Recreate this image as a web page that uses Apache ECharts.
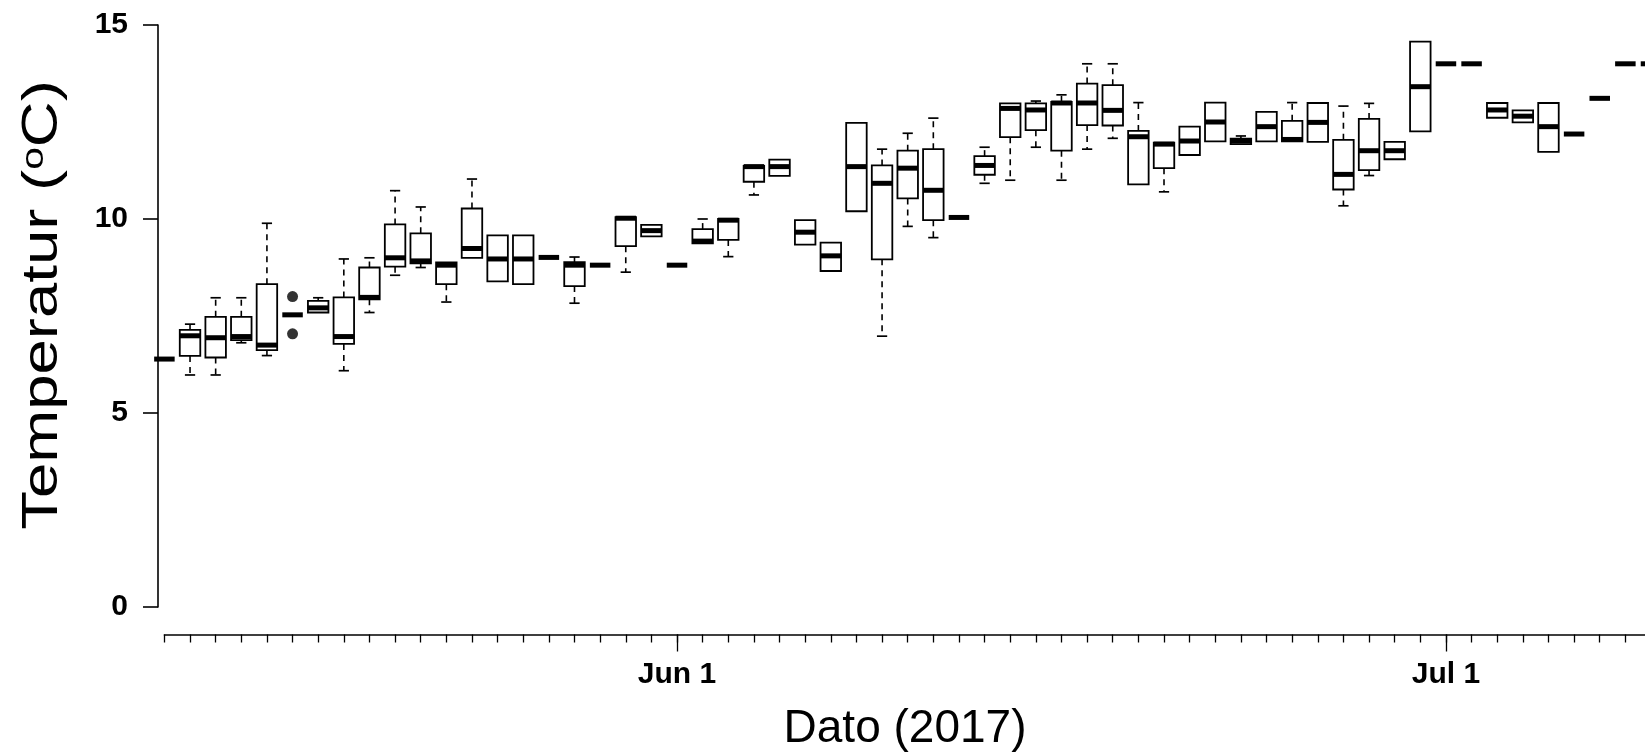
<!DOCTYPE html>
<html>
<head>
<meta charset="utf-8">
<title>Temperatur 2017</title>
<script src="https://cdn.jsdelivr.net/npm/echarts@6/dist/echarts.min.js"></script>
<style>
  html, body { margin: 0; padding: 0; background: #fff; }
  #chart { width: 1645px; height: 755px; }
</style>
</head>
<body>
<div id="chart"></div>
<script>
  const days = [
    'May 12', 'May 13', 'May 14', 'May 15', 'May 16', 'May 17', 'May 18', 'May 19', 'May 20', 'May 21',
    'May 22', 'May 23', 'May 24', 'May 25', 'May 26', 'May 27', 'May 28', 'May 29', 'May 30', 'May 31',
    'Jun 1', 'Jun 2', 'Jun 3', 'Jun 4', 'Jun 5', 'Jun 6', 'Jun 7', 'Jun 8', 'Jun 9', 'Jun 10',
    'Jun 11', 'Jun 12', 'Jun 13', 'Jun 14', 'Jun 15', 'Jun 16', 'Jun 17', 'Jun 18', 'Jun 19', 'Jun 20',
    'Jun 21', 'Jun 22', 'Jun 23', 'Jun 24', 'Jun 25', 'Jun 26', 'Jun 27', 'Jun 28', 'Jun 29', 'Jun 30',
    'Jul 1', 'Jul 2', 'Jul 3', 'Jul 4', 'Jul 5', 'Jul 6', 'Jul 7', 'Jul 8', 'Jul 9'
  ]
  const majorDays = ['Jun 1', 'Jul 1']

  // [nedre whisker, Q1, median, Q3, øvre whisker] per dag
  const boxes = [
    [6.39, 6.39, 6.39, 6.39, 6.39],
    [5.98, 6.47, 6.99, 7.14, 7.29],
    [5.98, 6.43, 6.94, 7.48, 7.97],
    [6.81, 6.88, 6.97, 7.48, 7.97],
    [6.48, 6.62, 6.75, 8.32, 9.89],
    [7.53, 7.53, 7.53, 7.53, 7.53],
    [7.59, 7.59, 7.71, 7.89, 7.97],
    [6.09, 6.78, 6.97, 7.98, 8.97],
    [7.59, 7.93, 7.98, 8.75, 9.0],
    [8.55, 8.77, 9.0, 9.86, 10.73],
    [8.75, 8.86, 8.92, 9.63, 10.31],
    [7.86, 8.32, 8.81, 8.88, 8.88],
    [9.0, 9.0, 9.24, 10.27, 11.03],
    [8.39, 8.39, 8.97, 9.58, 9.58],
    [8.32, 8.32, 8.97, 9.58, 9.58],
    [9.01, 9.01, 9.01, 9.01, 9.01],
    [7.83, 8.27, 8.81, 8.89, 9.02],
    [8.81, 8.81, 8.81, 8.81, 8.81],
    [8.63, 9.3, 10.02, 10.05, 10.05],
    [9.55, 9.55, 9.7, 9.85, 9.85],
    [8.81, 8.81, 8.81, 8.81, 8.81],
    [9.37, 9.37, 9.43, 9.74, 10.0],
    [9.03, 9.46, 9.97, 10.0, 10.0],
    [10.62, 10.96, 11.35, 11.37, 11.37],
    [11.11, 11.11, 11.35, 11.53, 11.53],
    [9.34, 9.34, 9.66, 9.97, 9.97],
    [8.66, 8.66, 9.05, 9.39, 9.39],
    [10.2, 10.2, 11.35, 12.48, 12.48],
    [6.98, 8.96, 10.92, 11.38, 11.8],
    [9.81, 10.53, 11.31, 11.76, 12.21],
    [9.52, 9.97, 10.74, 11.8, 12.6],
    [10.04, 10.04, 10.04, 10.04, 10.04],
    [10.92, 11.14, 11.38, 11.62, 11.85],
    [11.0, 12.11, 12.85, 12.98, 12.99],
    [11.85, 12.29, 12.81, 12.98, 13.04],
    [11.0, 11.76, 12.99, 13.02, 13.2],
    [11.8, 12.42, 12.99, 13.49, 14.0],
    [12.08, 12.41, 12.8, 13.45, 14.0],
    [10.89, 10.89, 12.12, 12.27, 13.0],
    [10.7, 11.31, 11.93, 11.97, 11.97],
    [11.65, 11.65, 12.01, 12.38, 12.38],
    [12.0, 12.0, 12.5, 13.0, 13.0],
    [11.93, 11.93, 12.01, 12.07, 12.14],
    [12.0, 12.0, 12.38, 12.76, 12.76],
    [12.0, 12.0, 12.05, 12.53, 13.0],
    [11.99, 11.99, 12.49, 12.99, 12.99],
    [10.34, 10.76, 11.15, 12.04, 12.91],
    [11.12, 11.26, 11.76, 12.58, 12.98],
    [11.54, 11.54, 11.76, 11.99, 11.99],
    [12.26, 12.26, 13.41, 14.57, 14.57],
    [14.0, 14.0, 14.0, 14.0, 14.0],
    [14.0, 14.0, 14.0, 14.0, 14.0],
    [12.61, 12.61, 12.81, 12.99, 12.99],
    [12.49, 12.49, 12.65, 12.8, 12.8],
    [11.73, 11.73, 12.38, 12.99, 12.99],
    [12.19, 12.19, 12.19, 12.19, 12.19],
    [13.11, 13.11, 13.11, 13.11, 13.11],
    [14.0, 14.0, 14.0, 14.0, 14.0],
    [14.0, 14.0, 14.0, 14.0, 14.0]
  ]

  // uteliggere: [dag, temperatur]
  const outliers = [['May 17', 8.0], ['May 17', 7.04]]

  const font = "'Liberation Sans', Arial, sans-serif"

  const renderBox = (params, api) => {
    const i = api.value(0)
    const lo = api.coord([i, api.value(1)])
    const q1 = api.coord([i, api.value(2)])
    const md = api.coord([i, api.value(3)])
    const q3 = api.coord([i, api.value(4)])
    const hi = api.coord([i, api.value(5)])
    const w = api.size([1, 0])[0] * 0.8
    const x = md[0]
    const thin = { stroke: '#000', lineWidth: 1.7, fill: null }
    const dashed = { stroke: '#000', lineWidth: 1.6, lineDash: [6, 5] }
    const children = []

    if (hi[1] < q3[1] - 0.5) {
      children.push({ type: 'line', shape: { x1: x, y1: q3[1], x2: x, y2: hi[1] }, style: dashed })
      children.push({ type: 'line', shape: { x1: x - w / 4, y1: hi[1], x2: x + w / 4, y2: hi[1] }, style: thin })
    }
    if (lo[1] > q1[1] + 0.5) {
      children.push({ type: 'line', shape: { x1: x, y1: q1[1], x2: x, y2: lo[1] }, style: dashed })
      children.push({ type: 'line', shape: { x1: x - w / 4, y1: lo[1], x2: x + w / 4, y2: lo[1] }, style: thin })
    }
    if (q1[1] - q3[1] > 0.5) {
      children.push({
        type: 'rect',
        shape: { x: x - w / 2, y: q3[1], width: w, height: q1[1] - q3[1] },
        style: { stroke: '#000', lineWidth: 1.8, fill: '#fff' }
      })
    }
    children.push({
      type: 'line',
      shape: { x1: x - w / 2, y1: md[1], x2: x + w / 2, y2: md[1] },
      style: { stroke: '#000', lineWidth: 5 }
    })
    return { type: 'group', children }
  }

  const chart = echarts.init(document.getElementById('chart'), null, { renderer: 'canvas' })
  chart.setOption({
    animation: false,
    backgroundColor: '#fff',
    grid: {
      left: 164.4,
      right: -6,
      top: 25,
      bottom: 148,
      containLabel: false,
      outerBoundsMode: 'none'
    },
    xAxis: [{
      type: 'category',
      data: days,
      boundaryGap: false,
      position: 'bottom',
      offset: 27.5,
      axisLine: { show: true, onZero: false, lineStyle: { color: '#000', width: 1.6 } },
      axisTick: { show: true, inside: false, length: 8, interval: 0, lineStyle: { color: '#000', width: 1.3 } },
      axisLabel: {
        interval: (idx, val) => majorDays.includes(val),
        margin: 25,
        color: '#000',
        fontFamily: font,
        fontWeight: 'bold',
        fontSize: 30
      },
      splitLine: { show: false }
    }, {
      type: 'category',
      data: days,
      boundaryGap: false,
      position: 'bottom',
      offset: 27.5,
      axisLine: { show: false, onZero: false },
      axisTick: {
        show: true,
        inside: false,
        length: 17,
        interval: (idx, val) => majorDays.includes(val),
        lineStyle: { color: '#000', width: 1.3 }
      },
      axisLabel: { show: false },
      splitLine: { show: false }
    }],
    yAxis: {
      type: 'value',
      min: 0,
      max: 15,
      interval: 5,
      offset: 6.4,
      axisLine: { show: true, onZero: false, lineStyle: { color: '#000', width: 1.6 } },
      axisTick: { show: true, inside: false, length: 15, lineStyle: { color: '#000', width: 1.6 } },
      axisLabel: {
        margin: 30,
        color: '#000',
        fontFamily: font,
        fontWeight: 'bold',
        fontSize: 30
      },
      splitLine: { show: false }
    },
    graphic: [{
      type: 'text',
      x: 43,
      y: 305,
      rotation: Math.PI / 2,
      scaleX: 1.27,
      style: {
        text: 'Temperatur ({sup|o}C)',
        fill: '#000',
        font: '50px ' + font,
        align: 'center',
        verticalAlign: 'middle',
        rich: {
          sup: { fontSize: 32, fontFamily: font, verticalAlign: 'top', lineHeight: 50, fill: '#000' }
        }
      }
    }, {
      type: 'text',
      x: 905,
      y: 729,
      style: {
        text: 'Dato (2017)',
        fill: '#000',
        font: '46px ' + font,
        align: 'center',
        verticalAlign: 'middle'
      }
    }],
    series: [{
      type: 'custom',
      xAxisIndex: 0,
      renderItem: renderBox,
      encode: { x: 0, y: [1, 2, 3, 4, 5] },
      data: boxes.map((b, i) => [i].concat(b))
    }, {
      type: 'scatter',
      xAxisIndex: 0,
      symbol: 'circle',
      symbolSize: 11,
      itemStyle: { color: '#000' },
      data: outliers
    }]
  })
</script>
</body>
</html>
